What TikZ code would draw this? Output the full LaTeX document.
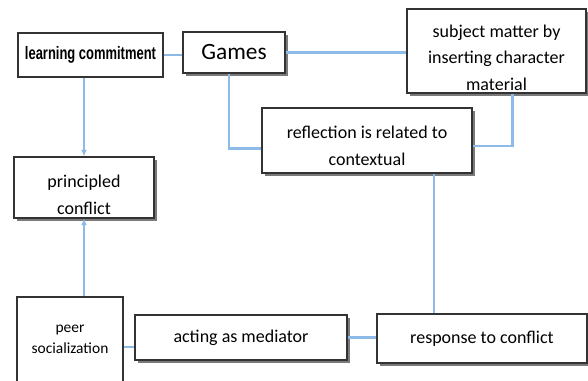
\documentclass[tikz,border=0pt]{standalone}
\usepackage{fontspec}
\setmainfont{Carlito}
\newfontfamily\narrowbold[FakeStretch=0.72]{Liberation Sans}
\usetikzlibrary{arrows.meta,shadows}
\definecolor{boxline}{HTML}{333333}
\definecolor{wireblue}{HTML}{8DBAE6}
\definecolor{shadowgrey}{HTML}{7A7A7A}

\begin{document}
\begin{tikzpicture}[x=.75pt,y=-.75pt,>={Latex[length=5pt,width=4.5pt]},
  font=\fontsize{13.5}{20}\selectfont,
  plainbox/.style={draw=boxline,fill=white,line width=.8pt,align=center,inner sep=2pt},
  shadowbox/.style={plainbox,drop shadow={shadow xshift=2pt,shadow yshift=-2pt,fill=shadowgrey,opacity=1}},
  wire/.style={draw=wireblue,line width=1.6pt}]
 \useasboundingbox (0,0) rectangle (588,380);
 \node[plainbox,minimum width=108.75pt,minimum height=33pt] (commit) at (90.5,55)
  {\narrowbold\bfseries learning commitment};
 \node[shadowbox,minimum width=76.5pt,minimum height=30.75pt,font=\fontsize{17.5}{20}\selectfont] (games) at (234,52.5) {Games};
 \node[shadowbox,minimum width=134.25pt,minimum height=63pt,text height=59pt,text depth=-2pt] (subject) at (496.5,51)
  {subject matter by\\inserting character\\material};
 \node[shadowbox,minimum width=157.5pt,minimum height=48.75pt,text height=37pt,text depth=0pt] (reflection) at (367,140.5)
  {reflection is related to\\contextual};
 \node[shadowbox,minimum width=105pt,minimum height=45.75pt,text height=40pt,text depth=0pt] (principled) at (84,187.5)
  {principled\\conflict};
 \node[plainbox,minimum width=79.5pt,minimum height=63.75pt,font=\fontsize{11.6}{16}\selectfont] (peer) at (70,339.5)
  {peer\\socialization};
 \node[shadowbox,minimum width=159pt,minimum height=33.75pt] (mediator) at (241,337.5) {acting as mediator};
 \node[shadowbox,minimum width=157.5pt,minimum height=36.75pt] (response) at (482,338.5) {response to conflict};

 \draw[wire] (commit.east) -- (commit.east -| games.west);
 \draw[wire] (games.east) -- (games.east -| subject.west);
 \draw[wire,->] (principled.north |- commit.south) -- (principled.north);
 \draw[wire,<-] (principled.south) -- (principled.south |- peer.north);
 \draw[wire] ([xshift=-3.75pt]games.south) |- ([yshift=-6pt]reflection.west);
 \draw[wire] ([xshift=12pt]subject.south) |- ([yshift=-4pt]reflection.east);
 \draw[wire] ([xshift=50pt]reflection.south) -- ([xshift=50pt]reflection.south |- response.north);
 \draw[wire] ([yshift=-5.6pt]peer.east) -- ([yshift=-5.6pt]peer.east -| mediator.west);
 \draw[wire] (mediator.east) -- (mediator.east -| response.west);
\end{tikzpicture}
\end{document}
